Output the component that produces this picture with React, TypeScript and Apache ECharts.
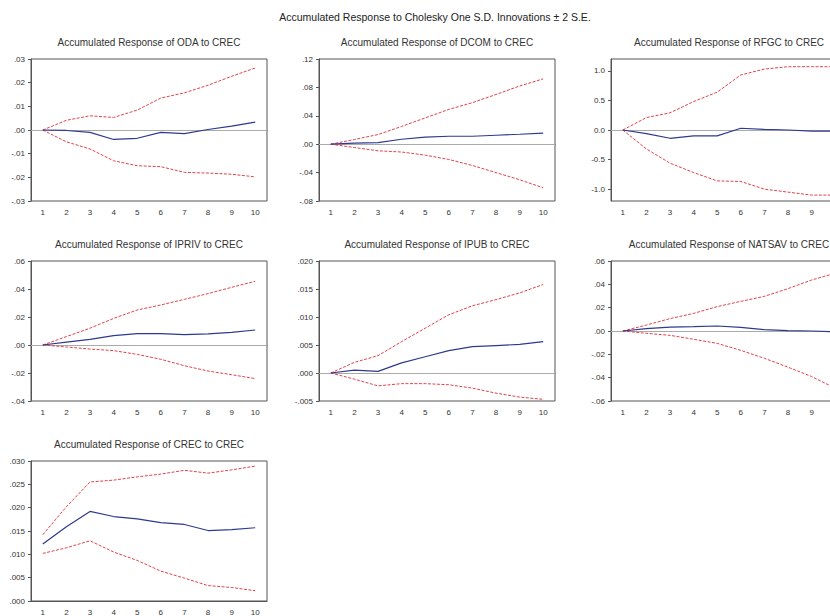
import React, { useEffect, useRef } from "react";
import * as echarts from "echarts";

const periods = ["1", "2", "3", "4", "5", "6", "7", "8", "9", "10"];

const mainTitle = "Accumulated Response to Cholesky One S.D. Innovations \u00b1 2 S.E.";

const panelTitles = [
  "Accumulated Response of ODA to CREC",
  "Accumulated Response of DCOM to CREC",
  "Accumulated Response of RFGC to CREC",
  "Accumulated Response of IPRIV to CREC",
  "Accumulated Response of IPUB to CREC",
  "Accumulated Response of NATSAV to CREC",
  "Accumulated Response of CREC to CREC",
];

// ODA
const odaResp = [0, -0.0002, -0.001, -0.004, -0.0035, -0.001, -0.0015, 0.0002, 0.0016, 0.0033];
const odaUpper = [0, 0.0041, 0.006, 0.0053, 0.0084, 0.0135, 0.0157, 0.0189, 0.0227, 0.0262];
const odaLower = [0, -0.005, -0.008, -0.013, -0.0151, -0.0155, -0.0179, -0.0182, -0.0187, -0.0198];

// DCOM
const dcomResp = [0, 0.0014, 0.0023, 0.007, 0.0099, 0.0112, 0.0112, 0.0126, 0.014, 0.0155];
const dcomUpper = [0, 0.0066, 0.0136, 0.025, 0.037, 0.049, 0.0585, 0.07, 0.082, 0.092];
const dcomLower = [0, -0.0047, -0.0093, -0.011, -0.0154, -0.0215, -0.03, -0.04, -0.05, -0.0614];

// RFGC
const rfgcResp = [0, -0.06, -0.14, -0.1, -0.1, 0.03, 0.01, 0.0, -0.02, -0.02];
const rfgcUpper = [0, 0.21, 0.29, 0.48, 0.64, 0.93, 1.03, 1.07, 1.07, 1.07];
const rfgcLower = [0, -0.32, -0.56, -0.72, -0.86, -0.87, -1.0, -1.05, -1.1, -1.1];
const rfgcTicks = [-1.0, -0.5, 0.0, 0.5, 1.0];

// IPRIV
const iprivResp = [0, 0.002, 0.004, 0.0067, 0.0081, 0.0081, 0.0074, 0.0079, 0.009, 0.0107];
const iprivUpper = [0, 0.006, 0.012, 0.019, 0.025, 0.0286, 0.0326, 0.0367, 0.0412, 0.0455];
const iprivLower = [0, -0.0014, -0.0029, -0.004, -0.0067, -0.0102, -0.0148, -0.0186, -0.0212, -0.024];

// IPUB
const ipubResp = [0, 0.0005, 0.0003, 0.0018, 0.0029, 0.004, 0.0047, 0.0049, 0.0051, 0.0056];
const ipubUpper = [0, 0.0019, 0.0031, 0.0056, 0.008, 0.0104, 0.012, 0.0131, 0.0143, 0.0158];
const ipubLower = [0, -0.0011, -0.0023, -0.0019, -0.0019, -0.0021, -0.0027, -0.0036, -0.0043, -0.0047];

// NATSAV
const natsavResp = [0, 0.002, 0.0034, 0.0037, 0.0043, 0.0031, 0.0011, 0.0003, 0, -0.0006];
const natsavUpper = [0, 0.0051, 0.0106, 0.0151, 0.0209, 0.0254, 0.0297, 0.0363, 0.0437, 0.0495];
const natsavLower = [0, -0.002, -0.0037, -0.0071, -0.0106, -0.0166, -0.0234, -0.031, -0.039, -0.049];

// CREC
const crecResp = [0.0122, 0.0159, 0.0192, 0.0181, 0.0176, 0.0168, 0.0164, 0.0151, 0.0153, 0.0157];
const crecUpper = [0.0142, 0.0202, 0.0255, 0.0259, 0.0266, 0.0272, 0.028, 0.0274, 0.0281, 0.0289];
const crecLower = [0.0102, 0.0114, 0.0129, 0.0105, 0.0087, 0.0064, 0.0049, 0.0033, 0.0029, 0.0022];

// y axis ranges: [min, max, interval, decimals, keepLeadingZero]
const yRanges: [number, number, number, number, boolean][] = [
  [-0.03, 0.03, 0.01, 2, false],
  [-0.08, 0.12, 0.04, 2, false],
  [-1.2, 1.2, 0.1, 1, true],
  [-0.04, 0.06, 0.02, 2, false],
  [-0.005, 0.02, 0.005, 3, false],
  [-0.06, 0.06, 0.02, 2, false],
  [0, 0.03, 0.005, 3, false],
];

const panelData = [
  [odaResp, odaUpper, odaLower],
  [dcomResp, dcomUpper, dcomLower],
  [rfgcResp, rfgcUpper, rfgcLower],
  [iprivResp, iprivUpper, iprivLower],
  [ipubResp, ipubUpper, ipubLower],
  [natsavResp, natsavUpper, natsavLower],
  [crecResp, crecUpper, crecLower],
];

const colLeft = [31, 319, 611];
const rowTop = [59, 261, 461];
const rowHeight = [142, 140, 140];
const boxWidth = 236;

const FONT = "'Liberation Sans', Arial, sans-serif";
const RED = "#e2424c";
const BLUE = "#2e3a8e";

export default function App() {
  const ref = useRef<HTMLDivElement>(null);
  useEffect(() => {
    if (!ref.current) return;
    const chart = echarts.init(ref.current, undefined, { renderer: "svg" });
    const grids: any[] = [];
    const xAxes: any[] = [];
    const yAxes: any[] = [];
    const series: any[] = [];
    const titles: any[] = [
      {
        text: mainTitle,
        left: 435,
        top: 11,
        padding: 0,
        textAlign: "center",
        textStyle: { fontFamily: FONT, fontSize: 10.5, fontWeight: "normal", color: "#222" },
      },
    ];
    panelData.forEach((pd, i) => {
      const col = i % 3;
      const row = Math.floor(i / 3);
      const left = colLeft[col];
      const top = rowTop[row];
      const h = rowHeight[row];
      grids.push({
        left,
        top,
        width: boxWidth,
        height: h,
        outerBoundsMode: "none",
        containLabel: false,
        show: true,
        borderColor: "#555",
        borderWidth: 1,
        backgroundColor: "#fff",
      });
      titles.push({
        text: panelTitles[i],
        left: left + boxWidth / 2,
        top: top - 22,
        padding: 0,
        textAlign: "center",
        textStyle: { fontFamily: FONT, fontSize: 10, fontWeight: "normal", color: "#333" },
      });
      xAxes.push({
        type: "category",
        gridIndex: i,
        data: periods,
        boundaryGap: true,
        axisLine: { lineStyle: { color: "#555", width: 1 } },
        axisTick: { alignWithLabel: true, inside: true, length: 3, lineStyle: { color: "#555" } },
        axisLabel: {
          fontFamily: FONT,
          fontSize: 8,
          color: "#333",
          margin: 7,
          interval: col === 2 ? (idx: number) => idx < 9 : 0,
        },
        splitLine: { show: false },
      });
      const [mn, mx, iv, dec, keep] = yRanges[i];
      const fmt = (v: number) => {
        let s = Math.abs(v) < 1e-12 ? (0).toFixed(dec) : v.toFixed(dec);
        if (!keep) s = s.replace(/^(-?)0\./, "$1.");
        return s;
      };
      const yAxis: any = {
        type: "value",
        gridIndex: i,
        min: mn,
        max: mx,
        interval: iv,
        axisLine: { show: true, lineStyle: { color: "#555", width: 1 } },
        axisTick: { show: true, inside: false, length: 3, lineStyle: { color: "#555" } },
        axisLabel: {
          fontFamily: FONT,
          fontSize: 8,
          color: "#333",
          margin: 6,
          formatter: fmt,
        },
        splitLine: { show: false },
      };
      if (i === 2) {
        yAxis.axisTick.customValues = rfgcTicks;
        yAxis.axisLabel.customValues = rfgcTicks;
      }
      yAxes.push(yAxis);
      const [resp, up, lo] = pd;
      series.push({
        type: "line",
        xAxisIndex: i,
        yAxisIndex: i,
        data: up,
        symbol: "none",
        lineStyle: { color: RED, width: 1, type: [3, 1.5] },
        z: 3,
      });
      series.push({
        type: "line",
        xAxisIndex: i,
        yAxisIndex: i,
        data: lo,
        symbol: "none",
        lineStyle: { color: RED, width: 1, type: [3, 1.5] },
        z: 3,
      });
      const respSeries: any = {
        type: "line",
        xAxisIndex: i,
        yAxisIndex: i,
        data: resp,
        symbol: "none",
        lineStyle: { color: BLUE, width: 1.2 },
        z: 4,
      };
      if (mn < 0) {
        respSeries.markLine = {
          silent: true,
          symbol: "none",
          label: { show: false },
          lineStyle: { color: "#aaa", width: 1, type: "solid" },
          data: [{ yAxis: 0 }],
          z: 2,
        };
      }
      series.push(respSeries);
    });
    chart.setOption({
      animation: false,
      backgroundColor: "#fff",
      title: titles,
      grid: grids,
      xAxis: xAxes,
      yAxis: yAxes,
      series,
    });
    return () => chart.dispose();
  }, []);
  return (
    <div
      ref={ref}
      style={{ position: "absolute", left: 0, top: 0, width: 830, height: 616 }}
    />
  );
}
